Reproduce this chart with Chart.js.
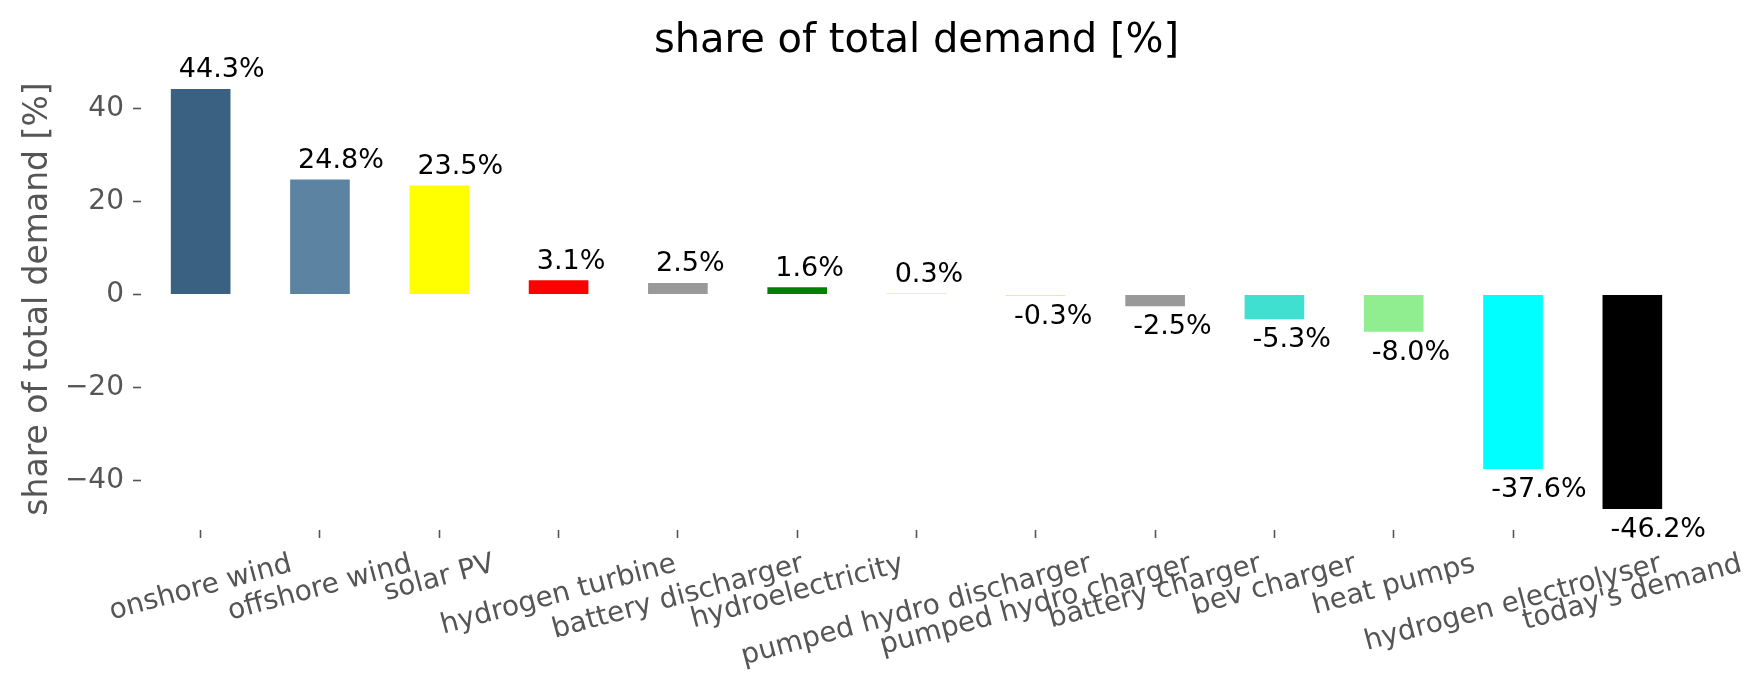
<!DOCTYPE html>
<html>
<head>
<meta charset="utf-8">
<script src="https://cdn.jsdelivr.net/npm/chart.js@4.4.1/dist/chart.umd.min.js"></script>
<style>
  html, body { margin: 0; padding: 0; background: #ffffff; }
  #wrap { width: 1764px; height: 689px; }
</style>
</head>
<body>
<div id="wrap"><canvas id="c" width="1764" height="689"></canvas></div>
<script>
const categories = [
  'onshore wind', 'offshore wind', 'solar PV', 'hydrogen turbine',
  'battery discharger', 'hydroelectricity', 'pumped hydro discharger',
  'pumped hydro charger', 'battery charger', 'bev charger', 'heat pumps',
  'hydrogen electrolyser', "today's demand"
];
const shares = [44.3, 24.8, 23.5, 3.1, 2.5, 1.6, 0.3, -0.3, -2.5, -5.3, -8.0, -37.6, -46.2];
const barColors = [
  '#3b6182', '#5c83a2', '#ffff00', '#ff0000', '#999999', '#008000', '#d4f2a8',
  '#d4f2a8', '#999999', '#40e0d0', '#90ee90', '#00ffff', '#000000'
];
const yTicks = [-40, -20, 0, 20, 40];
const chartTitle = 'share of total demand [%]';
const yAxisTitle = 'share of total demand [%]';

const FONT = '"DejaVu Sans", "Liberation Sans", sans-serif';
const GRAY = '#555555';

const dataMin = Math.min(...shares), dataMax = Math.max(...shares);
const margin = (dataMax - dataMin) * 0.05;

const overlay = {
  id: 'overlay',
  afterDatasetsDraw(chart) {
    const ctx = chart.ctx;
    const xs = chart.scales.x, ys = chart.scales.y;
    const area = chart.chartArea;
    const catW = (area.right - area.left) / categories.length;
    ctx.save();
    // value labels
    ctx.font = '27px ' + FONT;
    ctx.fillStyle = '#000000';
    ctx.textAlign = 'left';
    ctx.textBaseline = 'alphabetic';
    shares.forEach((v, i) => {
      const left = xs.getPixelForValue(i) - 0.25 * catW + 0.05 * catW + 2;
      const yp = ys.getPixelForValue(v);
      const base = v >= 0 ? yp - 11.6 : yp + 28;
      ctx.fillText(v.toFixed(1) + '%', left, base);
    });
    // rotated x tick labels (centered like matplotlib)
    const ang = 15 * Math.PI / 180;
    const fs = 28;
    ctx.font = fs + 'px ' + FONT;
    ctx.fillStyle = GRAY;
    ctx.textAlign = 'center';
    ctx.textBaseline = 'middle';
    const top = area.bottom + 8 + 10;
    categories.forEach((c, i) => {
      const W = ctx.measureText(c).width;
      const H = fs * 1.17;
      const bh = W * Math.sin(ang) + H * Math.cos(ang);
      const x = xs.getPixelForValue(i);
      const cy = top + bh / 2;
      ctx.save();
      ctx.translate(x, cy);
      ctx.rotate(-ang);
      ctx.fillText(c, 0, 0);
      ctx.restore();
    });
    // title
    ctx.font = '40px ' + FONT;
    ctx.fillStyle = '#000000';
    ctx.textAlign = 'center';
    ctx.textBaseline = 'alphabetic';
    ctx.fillText(chartTitle, (area.left + area.right) / 2, 52);
    ctx.restore();
  }
};

new Chart(document.getElementById('c'), {
  type: 'bar',
  data: {
    labels: categories,
    datasets: [{
      data: shares,
      backgroundColor: barColors,
      borderWidth: 0,
      barPercentage: 0.5,
      categoryPercentage: 1.0
    }]
  },
  options: {
    responsive: false,
    animation: false,
    devicePixelRatio: 1,
    layout: { padding: { top: 68, right: 72, left: 0, bottom: 0 } },
    plugins: {
      legend: { display: false },
      title: { display: false },
      tooltip: { enabled: false }
    },
    scales: {
      x: {
        type: 'category',
        offset: true,
        border: { display: false },
        grid: {
          offset: false,
          drawOnChartArea: false,
          drawTicks: true,
          tickLength: 8,
          tickColor: GRAY,
          tickWidth: 1.6
        },
        ticks: { display: false },
        afterFit(scale) { scale.height = 159; }
      },
      y: {
        type: 'linear',
        min: dataMin - margin,
        max: dataMax + margin,
        border: { display: false },
        grid: {
          drawOnChartArea: false,
          drawTicks: true,
          tickLength: 8,
          tickColor: GRAY,
          tickWidth: 1.6
        },
        afterBuildTicks(scale) { scale.ticks = yTicks.map(v => ({ value: v })); },
        ticks: {
          color: GRAY,
          padding: 9,
          font: { size: 28, family: FONT },
          callback: v => (v < 0 ? '\u2212' + Math.abs(v) : String(v))
        },
        title: {
          display: true,
          text: yAxisTitle,
          color: GRAY,
          font: { size: 33, family: FONT },
          padding: { top: 19, bottom: 0 }
        },
        afterFit(scale) { scale.width = 141; }
      }
    }
  },
  plugins: [overlay]
});
</script>
</body>
</html>
